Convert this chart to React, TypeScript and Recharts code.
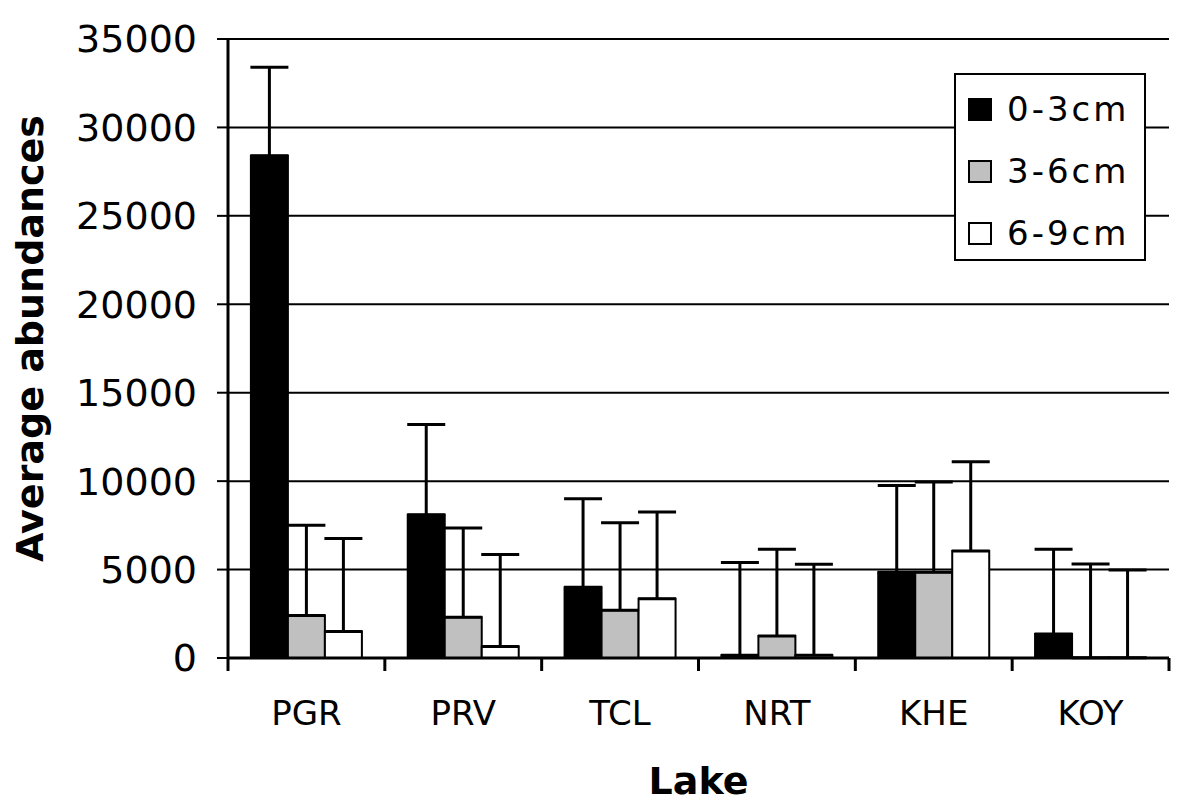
import React from "react";
import { BarChart, Bar, XAxis, YAxis, CartesianGrid, ErrorBar, Legend } from "recharts";

const LAKES = ["PGR", "PRV", "TCL", "NRT", "KHE", "KOY"];
const SERIES = ["0-3cm", "3-6cm", "6-9cm"];
const FILLS = ["#000000", "#c0c0c0", "#ffffff"];

// mean abundances per depth layer
const D0 = [28400, 8100, 4000, 150, 4850, 1350];
const D1 = [2400, 2300, 2700, 1250, 4850, 20];
const D2 = [1500, 650, 3350, 150, 6050, 20];

// upper error (plus only)
const E0 = [5000, 5100, 5000, 5250, 4900, 4800];
const E1 = [5100, 5050, 4950, 4900, 5100, 5300];
const E2 = [5250, 5200, 4900, 5150, 5050, 4950];

const Y_TICKS = [0, 5000, 10000, 15000, 20000, 25000, 30000, 35000];

const data = LAKES.map((lake, i) => ({
  lake,
  d0: D0[i], d1: D1[i], d2: D2[i],
  e0: [0, E0[i]], e1: [0, E1[i]], e2: [0, E2[i]],
}));

const FONT = "'DejaVu Sans', Verdana, sans-serif";
const INK = "#000";

// category label plus the Excel-style tick marks on the category boundaries
function LakeTick(props: any) {
  const { x, y, payload, index, visibleTicksCount, width } = props;
  const half = width && visibleTicksCount ? width / visibleTicksCount / 2 : payload.offset;
  const last = index === visibleTicksCount - 1;
  return (
    <g>
      <line x1={x - half} x2={x - half} y1={y} y2={y + 13} stroke={INK} strokeWidth={3} />
      {last && <line x1={x + half} x2={x + half} y1={y} y2={y + 13} stroke={INK} strokeWidth={3} />}
      <text x={x} y={y + 67} textAnchor="middle" fontSize={34} fontFamily={FONT} fill={INK}>{payload.value}</text>
    </g>
  );
}

function LegendBox() {
  return (
    <div style={{
      width: 188, height: 181, background: "#fff", border: "2px solid #000",
      paddingTop: 3, boxSizing: "content-box", fontFamily: FONT,
    }}>
      {SERIES.map((name, i) => (
        <div key={name} style={{ height: 62, display: "flex", alignItems: "center", paddingLeft: 12 }}>
          <span style={{ width: 20, height: 19, background: FILLS[i], border: "2px solid #000", display: "inline-block" }} />
          <span style={{ marginLeft: 15, fontSize: 34, letterSpacing: 3, color: "#000", lineHeight: 1 }}>{name}</span>
        </div>
      ))}
    </div>
  );
}

export default function App() {
  return (
    <div style={{ position: "absolute", left: 0, top: 0, background: "#fff" }}>
      <BarChart
        width={1200}
        height={805}
        data={data}
        margin={{ top: 39, right: 31, bottom: 0, left: 0 }}
        barCategoryGap="14.6%"
        barGap={0}
        style={{ fontFamily: FONT }}
      >
        <CartesianGrid vertical={false} stroke={INK} strokeWidth={2} />
        <XAxis
          dataKey="lake"
          height={147}
          interval={0}
          tickLine={false}
          tickSize={0}
          tickMargin={0}
          axisLine={{ stroke: INK, strokeWidth: 3 }}
          tick={<LakeTick />}
          label={{
            content: ({ viewBox }: any) => (
              <text x={viewBox.x + viewBox.width / 2} y={viewBox.y + 136} textAnchor="middle"
                fontSize={38} fontWeight="bold" fontFamily={FONT} fill={INK}>Lake</text>
            ),
          }}
        />
        <YAxis
          width={228}
          domain={[0, 35000]}
          ticks={Y_TICKS}
          interval={0}
          tickSize={11}
          tickMargin={20}
          tickLine={{ stroke: INK, strokeWidth: 2 }}
          axisLine={{ stroke: INK, strokeWidth: 3 }}
          tick={{ fontSize: 38, fill: INK, fontFamily: FONT }}
          label={{
            content: ({ viewBox }: any) => {
              const x = viewBox.x + 43;
              const y = viewBox.y + viewBox.height / 2 - 10;
              return (
                <text x={x} y={y} transform={`rotate(-90 ${x} ${y})`} textAnchor="middle"
                  fontSize={38} fontWeight="bold" fontFamily={FONT} fill={INK}>Average abundances</text>
              );
            },
          }}
        />
        <Legend
          layout="horizontal"
          align="center"
          verticalAlign="middle"
          wrapperStyle={{ left: 954, top: 73, width: 192, height: 187 }}
          content={() => <LegendBox />}
        />
        {(["d0", "d1", "d2"] as const).map((key, i) => (
          <Bar key={key} dataKey={key} name={SERIES[i]} fill={FILLS[i]} stroke={INK} strokeWidth={2} isAnimationActive={false}>
            <ErrorBar dataKey={`e${i}`} width={19} stroke={INK} strokeWidth={3} direction="y" isAnimationActive={false} />
          </Bar>
        ))}
      </BarChart>
    </div>
  );
}
